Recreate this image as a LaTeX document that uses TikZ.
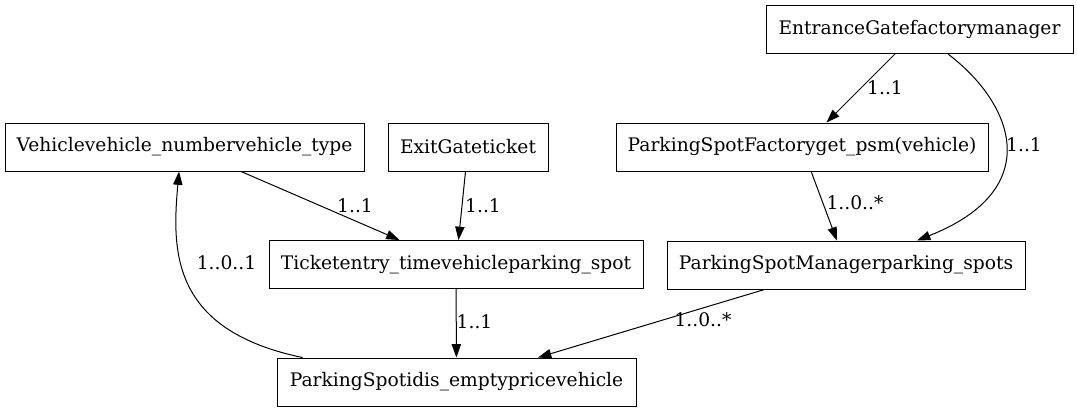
\documentclass[tikz,border=0pt]{standalone}
\usepackage{fontspec}
\setmainfont{DejaVu Serif}
\usetikzlibrary{arrows.meta,calc}
\begin{document}
\begin{tikzpicture}[x=0.75pt,y=-0.75pt,
    cls/.style={draw,rectangle,line width=0.75pt,minimum height=36pt,inner sep=0pt,font=\fontsize{14}{16}\selectfont},
    rel/.style={-{Triangle[length=10pt,width=7pt]},line width=0.75pt},
    mult/.style={inner sep=0pt,font=\fontsize{14}{16}\selectfont}]
\useasboundingbox (0,0) rectangle (1077,412);
%classes
        \node[cls,minimum width=230.25pt] (ent) at (919.5,29.5) {EntranceGatefactorymanager};
        \node[cls,minimum width=269.25pt] (veh) at (184.5,147) {Vehiclevehicle\_numbervehicle\_type};
        \node[cls,minimum width=120pt] (exit) at (468,147) {ExitGateticket};
        \node[cls,minimum width=279pt] (psf) at (802,147) {ParkingSpotFactoryget\_psm(vehicle)};
        \node[cls,minimum width=280.5pt] (tick) at (456,264.5) {Ticketentry\_timevehicleparking\_spot};
        \node[cls,minimum width=268.5pt] (psm) at (846,265) {ParkingSpotManagerparking\_spots};
        \node[cls,minimum width=269.25pt] (ps) at (456.5,382) {ParkingSpotidis\_emptypricevehicle};

%relations
        \draw [rel] (ent) -- (psf);
        \draw [rel] ($(ent.south)+(28.5,0)$) .. controls (1015,105) and (1045,190) .. ($(psm.north)+(71,0)$);
        \draw [rel] (psf) -- (psm);
        \draw [rel] (veh) -- (tick);
        \draw [rel] (exit) -- (tick);
        \draw [rel] (tick) -- (ps);
        \draw [rel] (psm) -- (ps);
        \draw [rel] ($(ps.north west)+(26,0)$) .. controls (170,330) and (172,250) .. ($(veh.south)+(-5.5,0)$);

%multiplicities
        \node[mult] (m1) at (885,88) {1..1};
        \node[mult] (m2) at (1024,145) {1..1};
        \node[mult] (m3) at (855,203) {1..0..*};
        \node[mult] (m4) at (355,206) {1..1};
        \node[mult] (m5) at (483,206) {1..1};
        \node[mult] (m6) at (474.5,322) {1..1};
        \node[mult] (m7) at (703,320) {1..0..*};
        \node[mult] (m8) at (226.5,263) {1..0..1};
\end{tikzpicture}
\end{document}
